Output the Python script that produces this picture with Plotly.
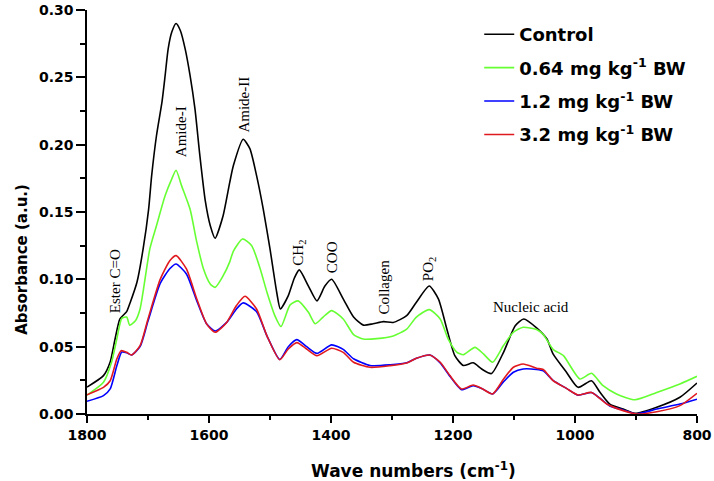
import plotly.graph_objects as go

# ---- data ----
wave_control = [1800,1773,1762,1754,1746,1735,1729,1718,1708,1699,1694,1686,1677,1672,1667,1661,1654,1647,1639,1631,1623,1615,1606,1598,1590,1577,1566,1560,1544,1533,1522,1511,1500,1489,1483,1470,1460,1452,1437,1423,1410,1399,1380,1363,1347,1331,1314,1298,1276,1260,1239,1224,1210,1197,1183,1167,1153,1137,1117,1098,1084,1063,1046,1036,1014,995,973,959,943,921,902,866,828,800]
abs_control = [0.020,0.0285,0.0386,0.0557,0.0706,0.076,0.083,0.098,0.1226,0.152,0.177,0.207,0.232,0.251,0.271,0.2836,0.290,0.2848,0.271,0.2513,0.2266,0.192,0.158,0.140,0.1305,0.147,0.172,0.1845,0.204,0.197,0.177,0.152,0.1226,0.0904,0.078,0.0879,0.101,0.107,0.095,0.084,0.095,0.100,0.0855,0.072,0.066,0.067,0.0686,0.068,0.073,0.083,0.095,0.0855,0.063,0.0433,0.036,0.038,0.0334,0.030,0.046,0.0656,0.0706,0.064,0.0557,0.0446,0.031,0.0198,0.0247,0.0161,0.0074,0.0037,0.0005,0.005,0.0124,0.023]

wave_064 = [1800,1773,1760,1751,1743,1735,1730,1721,1713,1697,1686,1672,1661,1654,1645,1631,1620,1609,1598,1590,1577,1566,1560,1545,1530,1516,1505,1492,1482,1467,1454,1437,1426,1413,1399,1380,1363,1347,1325,1298,1276,1260,1239,1221,1208,1194,1183,1164,1150,1135,1117,1101,1085,1063,1052,1036,1019,992,973,954,932,902,866,828,800]
abs_064 = [0.014,0.0235,0.038,0.056,0.071,0.072,0.066,0.069,0.078,0.1226,0.140,0.162,0.1746,0.181,0.1696,0.152,0.1276,0.1077,0.0966,0.094,0.1025,0.113,0.121,0.130,0.125,0.1077,0.0904,0.073,0.065,0.081,0.084,0.0755,0.067,0.072,0.0768,0.0706,0.059,0.0557,0.056,0.058,0.063,0.072,0.0775,0.0706,0.0557,0.046,0.044,0.0495,0.0446,0.0384,0.051,0.0607,0.0644,0.0627,0.059,0.048,0.0433,0.026,0.0302,0.021,0.0149,0.0106,0.016,0.0223,0.028]

wave_12 = [1800,1773,1762,1751,1743,1735,1727,1713,1700,1680,1664,1654,1637,1620,1604,1590,1571,1555,1544,1522,1505,1484,1470,1456,1440,1423,1399,1380,1363,1336,1303,1276,1260,1238,1221,1205,1186,1167,1153,1135,1117,1101,1085,1063,1052,1036,1014,995,973,959,943,921,899,866,828,800]
abs_12 = [0.0094,0.0136,0.0186,0.036,0.046,0.0455,0.0438,0.050,0.069,0.097,0.108,0.1114,0.104,0.084,0.067,0.0616,0.068,0.078,0.0825,0.076,0.058,0.0405,0.050,0.0552,0.050,0.045,0.0513,0.048,0.041,0.036,0.0365,0.038,0.0414,0.0438,0.038,0.028,0.018,0.021,0.019,0.0149,0.024,0.031,0.0334,0.033,0.032,0.025,0.019,0.014,0.016,0.0117,0.006,0.003,0.0,0.0037,0.0074,0.011]

wave_32 = [1800,1773,1762,1751,1744,1735,1727,1713,1700,1680,1664,1654,1637,1620,1604,1590,1571,1555,1541,1522,1505,1484,1470,1456,1440,1423,1399,1380,1363,1336,1303,1276,1260,1238,1221,1205,1186,1167,1153,1135,1117,1101,1085,1063,1052,1036,1014,995,973,948,921,899,866,828,800]
abs_32 = [0.0143,0.0198,0.0247,0.041,0.047,0.0458,0.0438,0.0507,0.0706,0.100,0.114,0.1176,0.1077,0.0854,0.0669,0.0607,0.068,0.0805,0.0874,0.078,0.058,0.0403,0.0483,0.053,0.0483,0.0433,0.0488,0.0458,0.0384,0.0347,0.0359,0.0379,0.0414,0.0438,0.0384,0.0285,0.0186,0.0215,0.019,0.0149,0.026,0.0347,0.0371,0.034,0.033,0.0247,0.019,0.0141,0.016,0.0074,0.0025,0.0,0.0017,0.0062,0.0154]

series_names = ["Control", "0.64 mg kg<sup>-1</sup> BW", "1.2 mg kg<sup>-1</sup> BW", "3.2 mg kg<sup>-1</sup> BW"]
series_colors = ["#000000", "#66ff33", "#0000ff", "#e0191f"]

band_labels = ["Ester C=O", "Amide-I", "Amide-II", "CH<sub>2</sub>", "COO", "Collagen", "PO<sub>2</sub>", "Nucleic acid"]
band_wave = [1755, 1646, 1543, 1452, 1398, 1313, 1239, 1072]
band_abs = [0.099, 0.210, 0.2296, 0.120, 0.1166, 0.094, 0.1077, 0.0797]
band_angle = [-90, -90, -90, -90, -90, -90, -90, 0]

x_ticks = [1800, 1600, 1400, 1200, 1000, 800]
y_ticks = [0.00, 0.05, 0.10, 0.15, 0.20, 0.25, 0.30]

x_title = "Wave numbers (cm<sup>-1</sup>)"
y_title = "Absorbance (a.u.)"

SANS = "DejaVu Sans, Arial, sans-serif"

fig = go.Figure()
all_w = [wave_control, wave_064, wave_12, wave_32]
all_a = [abs_control, abs_064, abs_12, abs_32]
for i, (w, a) in enumerate(zip(all_w, all_a)):
    fig.add_trace(go.Scatter(
        x=w, y=a, mode="lines", name=series_names[i], legendgroup=f"g{i}",
        line=dict(color=series_colors[i], width=1.6, shape="spline", smoothing=0.6),
    ))

for lab, xw, ya, ang in zip(band_labels, band_wave, band_abs, band_angle):
    fig.add_annotation(x=xw, y=ya, text=lab, textangle=ang, showarrow=False,
                       font=dict(family="Liberation Serif, Times New Roman, serif", size=15, color="#000"))

# axis titles (placed off-centre as in the reference)
fig.add_annotation(xref="paper", yref="paper", x=0.536, y=-0.139, text=x_title, showarrow=False,
                   xanchor="center", yanchor="middle",
                   font=dict(family=SANS, size=17, color="#000", weight="bold"))
fig.add_annotation(xref="paper", yref="paper", x=-0.1066, y=0.384, text=y_title, showarrow=False,
                   textangle=-90, xanchor="center", yanchor="middle",
                   font=dict(family=SANS, size=15, color="#000", weight="bold"))

axis_font = dict(family=SANS, size=14, color="#000", weight="bold")
fig.update_layout(
    width=714, height=481,
    margin=dict(l=87, r=17, t=10, b=67),
    plot_bgcolor="white", paper_bgcolor="white",
    showlegend=True,
    legend=dict(x=0.643, y=0.985, xanchor="left", yanchor="top",
                font=dict(family=SANS, size=18, color="#000", weight="bold"),
                bgcolor="rgba(0,0,0,0)", tracegroupgap=7, itemwidth=30),
    xaxis=dict(range=[1800, 800], tickvals=x_ticks, ticktext=[str(v) for v in x_ticks], automargin=False,
               showgrid=False, zeroline=False, showline=True, linecolor="#000", linewidth=1.5,
               ticks="outside", ticklen=7, tickwidth=1.5, tickcolor="#000", tickfont=axis_font,
               minor=dict(dtick=100, ticks="outside", ticklen=4, tickwidth=1.5, tickcolor="#000", showgrid=False)),
    yaxis=dict(range=[0, 0.30], tickvals=y_ticks, ticktext=[f"{v:.2f}" for v in y_ticks], automargin=False,
               showgrid=False, zeroline=False, showline=True, linecolor="#000", linewidth=1.5,
               ticks="outside", ticklen=9, tickwidth=1.5, tickcolor="#000", tickfont=axis_font,
               minor=dict(dtick=0.025, ticks="outside", ticklen=5, tickwidth=1.5, tickcolor="#000", showgrid=False)),
)

fig.write_html("out.html", config={"displayModeBar": False},
               post_script="document.body.style.margin='0';")
